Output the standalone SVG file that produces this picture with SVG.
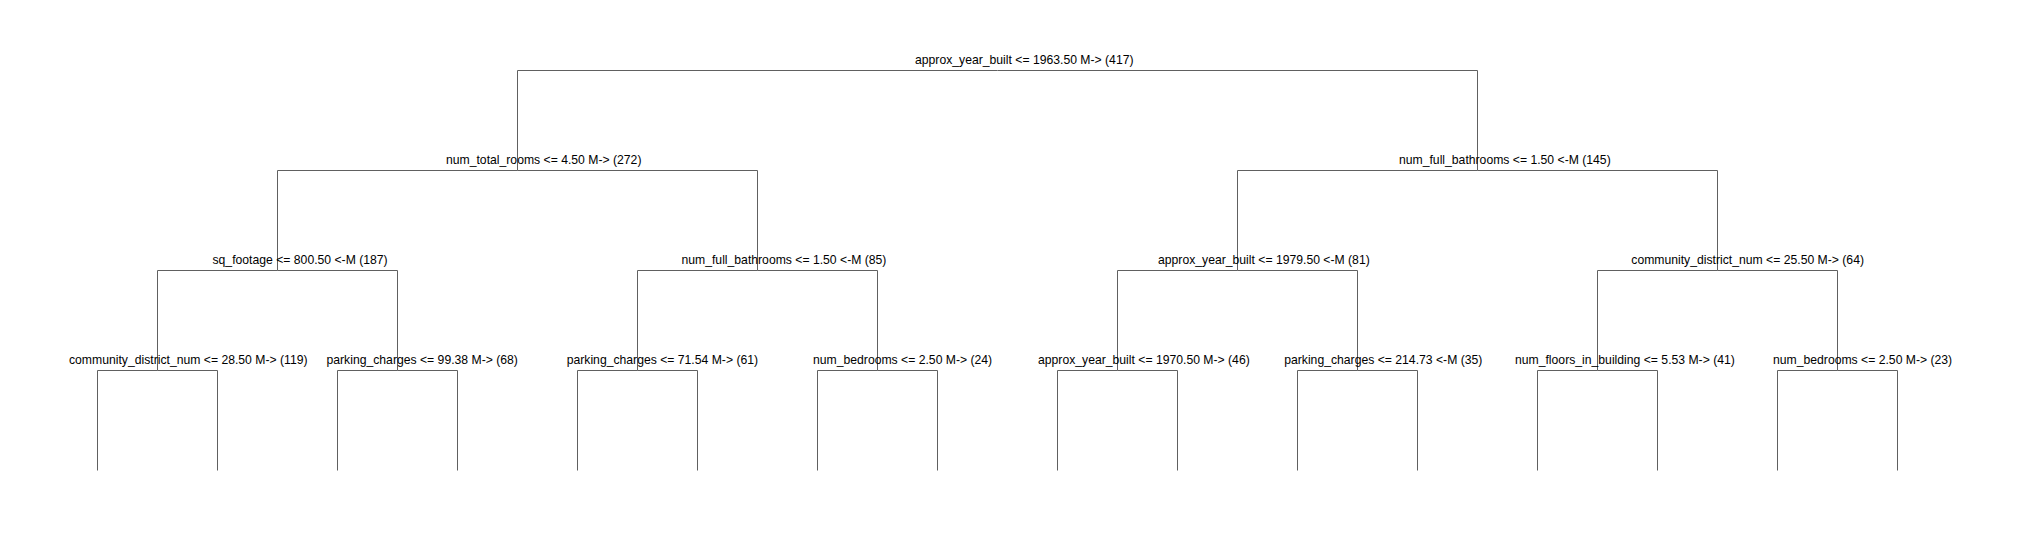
<svg xmlns="http://www.w3.org/2000/svg" width="2023" height="540" viewBox="0 0 2023 540">
<style>
.e{fill:none;stroke:#606060;stroke-width:1}
.t{font-family:"Liberation Sans",Arial,sans-serif;font-size:12.2px;fill:#000}
</style>
<rect width="2023" height="540" fill="#fff"/>
<g id="connectors">
<path class="e" d="M997.5 70.5H517.5V170.5"/>
<path class="e" d="M997.5 70.5H1477.5V170.5"/>
<path class="e" d="M517.5 170.5H277.5V270.5"/>
<path class="e" d="M517.5 170.5H757.5V270.5"/>
<path class="e" d="M1477.5 170.5H1237.5V270.5"/>
<path class="e" d="M1477.5 170.5H1717.5V270.5"/>
<path class="e" d="M277.5 270.5H157.5V370.5"/>
<path class="e" d="M277.5 270.5H397.5V370.5"/>
<path class="e" d="M757.5 270.5H637.5V370.5"/>
<path class="e" d="M757.5 270.5H877.5V370.5"/>
<path class="e" d="M1237.5 270.5H1117.5V370.5"/>
<path class="e" d="M1237.5 270.5H1357.5V370.5"/>
<path class="e" d="M1717.5 270.5H1597.5V370.5"/>
<path class="e" d="M1717.5 270.5H1837.5V370.5"/>
<path class="e" d="M157.5 370.5H97.5V470.5"/>
<path class="e" d="M157.5 370.5H217.5V470.5"/>
<path class="e" d="M397.5 370.5H337.5V470.5"/>
<path class="e" d="M397.5 370.5H457.5V470.5"/>
<path class="e" d="M637.5 370.5H577.5V470.5"/>
<path class="e" d="M637.5 370.5H697.5V470.5"/>
<path class="e" d="M877.5 370.5H817.5V470.5"/>
<path class="e" d="M877.5 370.5H937.5V470.5"/>
<path class="e" d="M1117.5 370.5H1057.5V470.5"/>
<path class="e" d="M1117.5 370.5H1177.5V470.5"/>
<path class="e" d="M1357.5 370.5H1297.5V470.5"/>
<path class="e" d="M1357.5 370.5H1417.5V470.5"/>
<path class="e" d="M1597.5 370.5H1537.5V470.5"/>
<path class="e" d="M1597.5 370.5H1657.5V470.5"/>
<path class="e" d="M1837.5 370.5H1777.5V470.5"/>
<path class="e" d="M1837.5 370.5H1897.5V470.5"/>
</g>
<g id="node-root"><text class="t" x="915" y="64">approx_year_built &lt;= 1963.50 M-&gt; (417)</text></g>
<g id="node-l1a"><text class="t" x="446" y="164">num_total_rooms &lt;= 4.50 M-&gt; (272)</text></g>
<g id="node-l1b"><text class="t" x="1399" y="164">num_full_bathrooms &lt;= 1.50 &lt;-M (145)</text></g>
<g id="node-l2a"><text class="t" x="212.5" y="264">sq_footage &lt;= 800.50 &lt;-M (187)</text></g>
<g id="node-l2b"><text class="t" x="681.5" y="264">num_full_bathrooms &lt;= 1.50 &lt;-M (85)</text></g>
<g id="node-l2c"><text class="t" x="1158" y="264">approx_year_built &lt;= 1979.50 &lt;-M (81)</text></g>
<g id="node-l2d"><text class="t" x="1631.3" y="264">community_district_num &lt;= 25.50 M-&gt; (64)</text></g>
<g id="node-l3a"><text class="t" x="69" y="364">community_district_num &lt;= 28.50 M-&gt; (119)</text></g>
<g id="node-l3b"><text class="t" x="326.5" y="364">parking_charges &lt;= 99.38 M-&gt; (68)</text></g>
<g id="node-l3c"><text class="t" x="566.7" y="364">parking_charges &lt;= 71.54 M-&gt; (61)</text></g>
<g id="node-l3d"><text class="t" x="813" y="364">num_bedrooms &lt;= 2.50 M-&gt; (24)</text></g>
<g id="node-l3e"><text class="t" x="1038" y="364">approx_year_built &lt;= 1970.50 M-&gt; (46)</text></g>
<g id="node-l3f"><text class="t" x="1284.2" y="364">parking_charges &lt;= 214.73 &lt;-M (35)</text></g>
<g id="node-l3g"><text class="t" x="1515" y="364">num_floors_in_building &lt;= 5.53 M-&gt; (41)</text></g>
<g id="node-l3h"><text class="t" x="1773" y="364">num_bedrooms &lt;= 2.50 M-&gt; (23)</text></g>
</svg>
